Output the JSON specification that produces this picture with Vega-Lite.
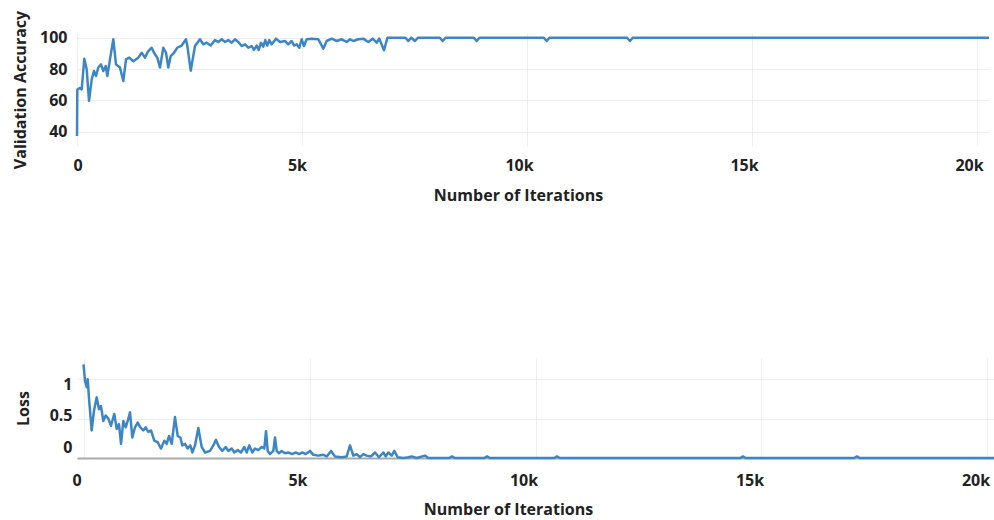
{
  "$schema": "https://vega.github.io/schema/vega-lite/v6.json",
  "background": "white",
  "padding": {"left": 12, "top": 10, "right": 0, "bottom": 30},
  "spacing": 155,
  "config": {
    "view": {"stroke": null},
    "font": "Open Sans",
    "axis": {
      "labelFont": "Open Sans", "labelFontWeight": "bold", "labelFontSize": 16, "labelColor": "#222222",
      "titleFont": "Open Sans", "titleFontWeight": "bold", "titleFontSize": 16, "titleColor": "#222222",
      "gridColor": "#eeeeee", "gridWidth": 1, "ticks": false
    }
  },
  "datasets": {
    "acc": [
      {"it": 0, "acc": 37.4}, {"it": 7, "acc": 67}, {"it": 67, "acc": 68}, {"it": 104, "acc": 67},
      {"it": 162, "acc": 86.6}, {"it": 215, "acc": 80}, {"it": 267, "acc": 59.7}, {"it": 327, "acc": 73.5},
      {"it": 378, "acc": 78.8}, {"it": 422, "acc": 75.6}, {"it": 473, "acc": 81}, {"it": 533, "acc": 83},
      {"it": 584, "acc": 78.8}, {"it": 638, "acc": 82}, {"it": 673, "acc": 75.6}, {"it": 733, "acc": 86.2},
      {"it": 807, "acc": 99}, {"it": 867, "acc": 83}, {"it": 955, "acc": 81}, {"it": 1029, "acc": 72.4},
      {"it": 1089, "acc": 86.2}, {"it": 1162, "acc": 87.3}, {"it": 1251, "acc": 85}, {"it": 1362, "acc": 87.3},
      {"it": 1438, "acc": 90.4}, {"it": 1511, "acc": 87.3}, {"it": 1584, "acc": 91.5}, {"it": 1660, "acc": 93.6},
      {"it": 1711, "acc": 90.4}, {"it": 1784, "acc": 87.3}, {"it": 1844, "acc": 81}, {"it": 1918, "acc": 93.6},
      {"it": 1978, "acc": 90.4}, {"it": 2029, "acc": 81}, {"it": 2082, "acc": 88.3}, {"it": 2155, "acc": 90.4},
      {"it": 2229, "acc": 93.6}, {"it": 2326, "acc": 95}, {"it": 2422, "acc": 99}, {"it": 2451, "acc": 95},
      {"it": 2527, "acc": 79}, {"it": 2622, "acc": 94.7}, {"it": 2733, "acc": 99}, {"it": 2806, "acc": 95.8},
      {"it": 2882, "acc": 96.8}, {"it": 2971, "acc": 95}, {"it": 3066, "acc": 98.5}, {"it": 3140, "acc": 97.3},
      {"it": 3215, "acc": 99}, {"it": 3289, "acc": 97.3}, {"it": 3362, "acc": 98.5}, {"it": 3437, "acc": 96.8},
      {"it": 3511, "acc": 99}, {"it": 3584, "acc": 97.3}, {"it": 3660, "acc": 94.7}, {"it": 3733, "acc": 95.8},
      {"it": 3806, "acc": 93.6}, {"it": 3882, "acc": 94.7}, {"it": 3933, "acc": 92.2}, {"it": 3993, "acc": 95},
      {"it": 4038, "acc": 92.2}, {"it": 4089, "acc": 96.8}, {"it": 4140, "acc": 94.3}, {"it": 4184, "acc": 98.5},
      {"it": 4229, "acc": 95}, {"it": 4273, "acc": 98.5}, {"it": 4326, "acc": 95.8}, {"it": 4422, "acc": 99.4},
      {"it": 4511, "acc": 97.3}, {"it": 4622, "acc": 97.9}, {"it": 4695, "acc": 95.8}, {"it": 4771, "acc": 97.9},
      {"it": 4822, "acc": 95}, {"it": 4882, "acc": 95.8}, {"it": 4940, "acc": 93.6}, {"it": 4993, "acc": 99},
      {"it": 5044, "acc": 94.7}, {"it": 5104, "acc": 99}, {"it": 5215, "acc": 99.4}, {"it": 5362, "acc": 99},
      {"it": 5473, "acc": 93}, {"it": 5548, "acc": 97.9}, {"it": 5660, "acc": 99.4}, {"it": 5771, "acc": 97.9},
      {"it": 5882, "acc": 99}, {"it": 5993, "acc": 97.3}, {"it": 6066, "acc": 99}, {"it": 6140, "acc": 97.9},
      {"it": 6251, "acc": 99}, {"it": 6362, "acc": 99.4}, {"it": 6473, "acc": 97.3}, {"it": 6571, "acc": 99.4},
      {"it": 6660, "acc": 96.8}, {"it": 6717, "acc": 99.4}, {"it": 6822, "acc": 92}, {"it": 6900, "acc": 100},
      {"it": 7300, "acc": 100}, {"it": 7362, "acc": 97.9}, {"it": 7430, "acc": 100}, {"it": 7511, "acc": 97.9},
      {"it": 7580, "acc": 100}, {"it": 8060, "acc": 100}, {"it": 8126, "acc": 97.9}, {"it": 8190, "acc": 100},
      {"it": 8820, "acc": 100}, {"it": 8882, "acc": 97.9}, {"it": 8945, "acc": 100}, {"it": 10370, "acc": 100},
      {"it": 10437, "acc": 97.9}, {"it": 10500, "acc": 100}, {"it": 12220, "acc": 100}, {"it": 12288, "acc": 97.9},
      {"it": 12355, "acc": 100}, {"it": 20267, "acc": 100}
    ],
    "loss": [
      {"it": 0, "loss": 1.19}, {"it": 33, "loss": 0.98}, {"it": 71, "loss": 0.9}, {"it": 93, "loss": 1.0},
      {"it": 122, "loss": 0.75}, {"it": 181, "loss": 0.35}, {"it": 232, "loss": 0.6}, {"it": 292, "loss": 0.77},
      {"it": 343, "loss": 0.62}, {"it": 387, "loss": 0.66}, {"it": 438, "loss": 0.47}, {"it": 491, "loss": 0.54},
      {"it": 549, "loss": 0.5}, {"it": 608, "loss": 0.41}, {"it": 681, "loss": 0.56}, {"it": 734, "loss": 0.37},
      {"it": 785, "loss": 0.43}, {"it": 830, "loss": 0.18}, {"it": 881, "loss": 0.47}, {"it": 934, "loss": 0.39},
      {"it": 978, "loss": 0.47}, {"it": 1029, "loss": 0.58}, {"it": 1080, "loss": 0.26}, {"it": 1139, "loss": 0.39},
      {"it": 1199, "loss": 0.45}, {"it": 1257, "loss": 0.39}, {"it": 1323, "loss": 0.35}, {"it": 1376, "loss": 0.39},
      {"it": 1434, "loss": 0.33}, {"it": 1493, "loss": 0.35}, {"it": 1566, "loss": 0.22}, {"it": 1642, "loss": 0.2},
      {"it": 1715, "loss": 0.12}, {"it": 1788, "loss": 0.22}, {"it": 1841, "loss": 0.18}, {"it": 1892, "loss": 0.28},
      {"it": 1951, "loss": 0.18}, {"it": 2024, "loss": 0.52}, {"it": 2084, "loss": 0.28}, {"it": 2142, "loss": 0.26},
      {"it": 2186, "loss": 0.16}, {"it": 2246, "loss": 0.18}, {"it": 2305, "loss": 0.12}, {"it": 2363, "loss": 0.16},
      {"it": 2407, "loss": 0.07}, {"it": 2467, "loss": 0.16}, {"it": 2540, "loss": 0.38}, {"it": 2615, "loss": 0.14},
      {"it": 2688, "loss": 0.07}, {"it": 2799, "loss": 0.09}, {"it": 2872, "loss": 0.16}, {"it": 2931, "loss": 0.23},
      {"it": 2998, "loss": 0.14}, {"it": 3071, "loss": 0.09}, {"it": 3146, "loss": 0.14}, {"it": 3204, "loss": 0.09},
      {"it": 3279, "loss": 0.12}, {"it": 3336, "loss": 0.07}, {"it": 3412, "loss": 0.1}, {"it": 3485, "loss": 0.07},
      {"it": 3558, "loss": 0.14}, {"it": 3611, "loss": 0.07}, {"it": 3668, "loss": 0.16}, {"it": 3735, "loss": 0.07},
      {"it": 3794, "loss": 0.12}, {"it": 3867, "loss": 0.1}, {"it": 3942, "loss": 0.14}, {"it": 4000, "loss": 0.12},
      {"it": 4038, "loss": 0.34}, {"it": 4075, "loss": 0.09}, {"it": 4126, "loss": 0.05}, {"it": 4199, "loss": 0.09},
      {"it": 4237, "loss": 0.26}, {"it": 4274, "loss": 0.09}, {"it": 4325, "loss": 0.06}, {"it": 4385, "loss": 0.09},
      {"it": 4458, "loss": 0.06}, {"it": 4531, "loss": 0.07}, {"it": 4619, "loss": 0.05}, {"it": 4695, "loss": 0.07},
      {"it": 4768, "loss": 0.05}, {"it": 4841, "loss": 0.07}, {"it": 4916, "loss": 0.05}, {"it": 5011, "loss": 0.09},
      {"it": 5084, "loss": 0.04}, {"it": 5195, "loss": 0.03}, {"it": 5305, "loss": 0.04}, {"it": 5381, "loss": 0.02},
      {"it": 5476, "loss": 0.09}, {"it": 5564, "loss": 0.02}, {"it": 5712, "loss": 0.01}, {"it": 5823, "loss": 0.02},
      {"it": 5896, "loss": 0.16}, {"it": 5969, "loss": 0.03}, {"it": 6044, "loss": 0.05}, {"it": 6117, "loss": 0.01},
      {"it": 6190, "loss": 0.05}, {"it": 6265, "loss": 0.03}, {"it": 6361, "loss": 0.02}, {"it": 6449, "loss": 0.07},
      {"it": 6538, "loss": 0.01}, {"it": 6633, "loss": 0.07}, {"it": 6686, "loss": 0.02}, {"it": 6743, "loss": 0.07},
      {"it": 6819, "loss": 0.03}, {"it": 6876, "loss": 0.09}, {"it": 6951, "loss": 0.01}, {"it": 7075, "loss": 0.0},
      {"it": 7186, "loss": 0.01}, {"it": 7261, "loss": 0.02}, {"it": 7372, "loss": 0.0}, {"it": 7555, "loss": 0.03},
      {"it": 7628, "loss": 0.0}, {"it": 8090, "loss": 0.0}, {"it": 8153, "loss": 0.02}, {"it": 8216, "loss": 0.0},
      {"it": 8865, "loss": 0.0}, {"it": 8927, "loss": 0.02}, {"it": 8990, "loss": 0.0},
      {"it": 10415, "loss": 0.0}, {"it": 10476, "loss": 0.02}, {"it": 10540, "loss": 0.0},
      {"it": 14530, "loss": 0.0}, {"it": 14590, "loss": 0.02}, {"it": 14650, "loss": 0.0},
      {"it": 17050, "loss": 0.0}, {"it": 17113, "loss": 0.02}, {"it": 17175, "loss": 0.0}, {"it": 20144, "loss": 0.0}
    ]
  },
  "vconcat": [
    {
      "width": 912,
      "height": 113,
      "data": {"name": "acc"},
      "mark": {"type": "line", "color": "#3d86c6", "strokeWidth": 2.5, "strokeJoin": "round"},
      "encoding": {
        "x": {
          "field": "it", "type": "quantitative",
          "scale": {"domain": [0, 20267], "nice": false, "zero": false},
          "axis": {
            "title": "Number of Iterations", "values": [0, 5000, 10000, 15000, 20000],
            "labelExpr": "datum.value == 0 ? '0' : (datum.value / 1000) + 'k'",
            "domain": false, "labelPadding": 11, "titlePadding": 14, "titleX": 441,
            "labelOffset": {"condition": [{"test": "datum.value == 0", "value": -4}, {"test": "datum.value == 5000", "value": -5}], "value": -8}
          }
        },
        "y": {
          "field": "acc", "type": "quantitative",
          "scale": {"domain": [31, 103], "nice": false, "zero": false},
          "axis": {
            "title": "Validation Accuracy", "values": [40, 60, 80, 100],
            "domain": false, "labelPadding": 10, "titlePadding": 11
          }
        }
      }
    },
    {
      "width": 917,
      "height": 100,
      "data": {"name": "loss"},
      "mark": {"type": "line", "color": "#3d86c6", "strokeWidth": 2.5, "strokeJoin": "round"},
      "encoding": {
        "x": {
          "field": "it", "type": "quantitative",
          "scale": {"domain": [-144, 20144], "nice": false, "zero": false},
          "axis": {
            "title": "Number of Iterations", "values": [0, 5000, 10000, 15000, 20000],
            "labelExpr": "datum.value == 0 ? '0' : (datum.value / 1000) + 'k'",
            "domain": true, "domainColor": "#aaaaaa", "domainWidth": 2,
            "labelPadding": 14, "titlePadding": 13, "titleX": 431,
            "labelOffset": {"condition": [{"test": "datum.value == 0", "value": -7}], "value": -12}
          }
        },
        "y": {
          "field": "loss", "type": "quantitative",
          "scale": {"domain": [0, 1.27], "nice": false, "zero": false},
          "axis": {
            "title": "Loss", "values": [0, 0.5, 1], "format": "~g",
            "domain": false, "labelPadding": 5, "titlePadding": 18,
            "labelOffset": {"condition": [{"test": "datum.value == 0", "value": -11}, {"test": "datum.value == 1", "value": 5}], "value": -3}
          }
        }
      }
    }
  ]
}
